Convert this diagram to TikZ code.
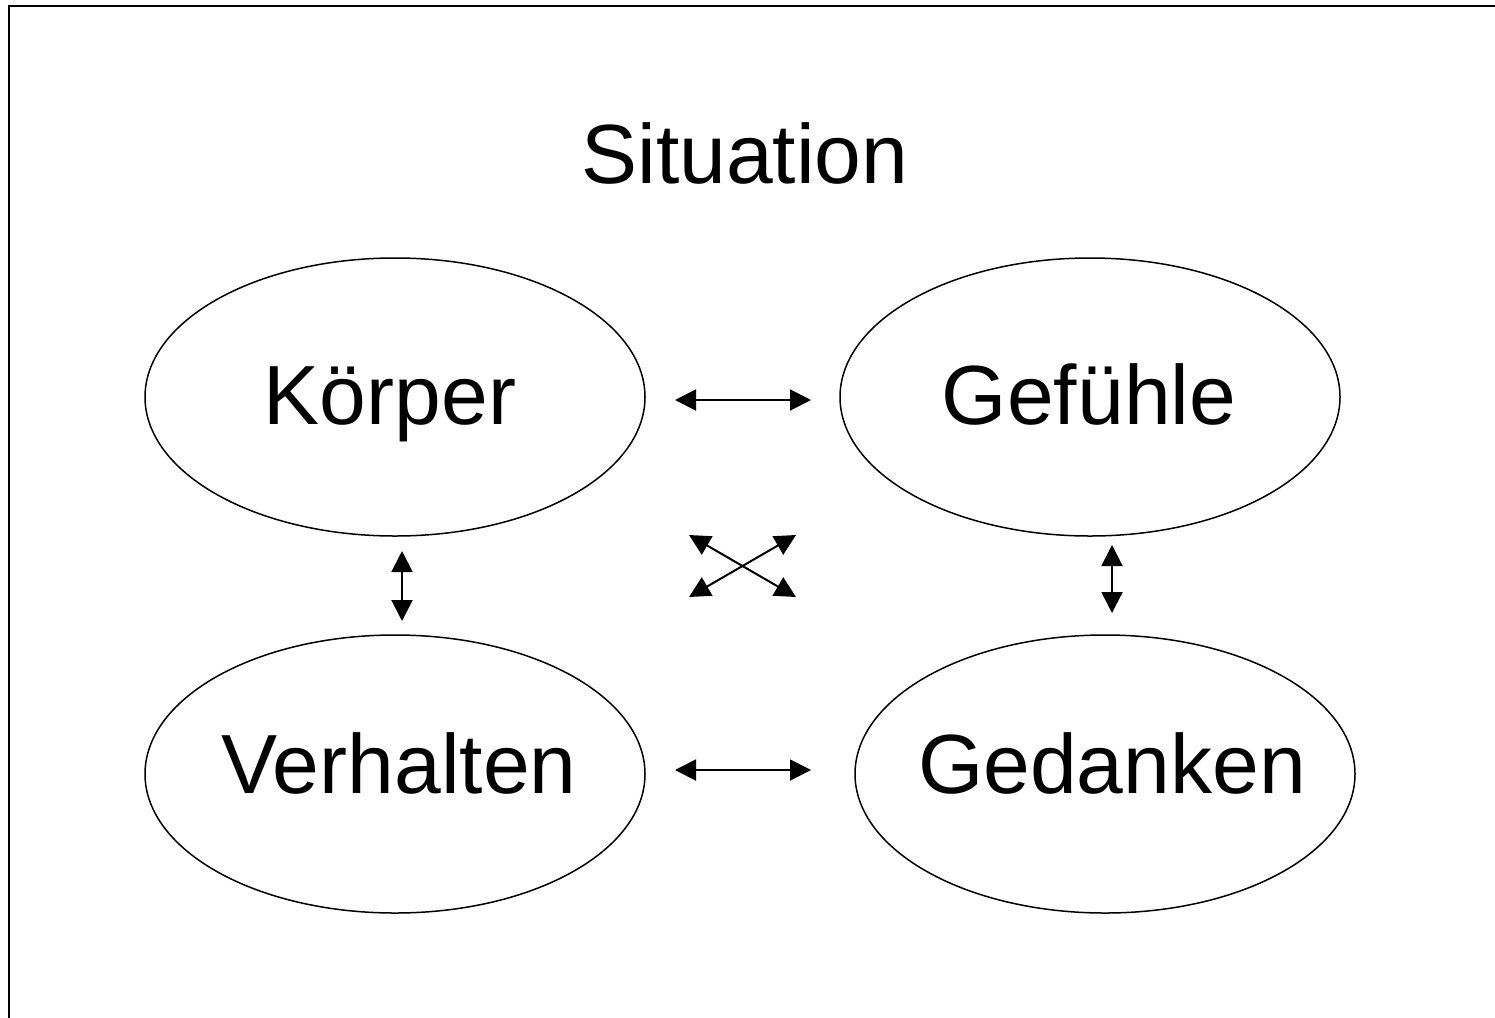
\documentclass[tikz,border=0pt]{standalone}
\usepackage{fontspec}
\setmainfont{Liberation Sans}
\usetikzlibrary{shapes.geometric,arrows.meta}
\begin{document}
\begin{tikzpicture}[x=1pt,y=-1pt,
  oval/.style={draw=black,line width=1.5pt,ellipse,minimum width=500pt,minimum height=278pt,inner sep=0pt},
  lbl/.style={font=\fontsize{84}{100}\selectfont,anchor=base,inner sep=0pt},
  dbl/.style={line width=2pt,{Triangle[length=21pt,width=21pt]}-{Triangle[length=21pt,width=21pt]}}]
\useasboundingbox (0,0) rectangle (1495,1017);
% frame
\draw[line width=2pt,line cap=rect] (9,1017) -- (9,6) -- (1495,6);
% title
\node[lbl] (sit) at (745,183) {Situation};
% ellipses
\node[oval] (k) at (395,397) {};
\node[oval] (gf) at (1090,397) {};
\node[oval] (v) at (395,774) {};
\node[oval] (gd) at (1105,774) {};
\node[lbl] (kt) at (390,424) {Körper};
\node[lbl] (gft) at (1089,424) {Gefühle};
\node[lbl] (vt) at (399,793) {Verhalten};
\node[lbl] (gdt) at (1112,793) {Gedanken};
% arrow end points
\coordinate (h1a) at (675,400); \coordinate (h1b) at (811,400);
\coordinate (h2a) at (675,770); \coordinate (h2b) at (811,770);
\coordinate (v1a) at (402,551); \coordinate (v1b) at (402,621);
\coordinate (v2a) at (1112,545); \coordinate (v2b) at (1112,613);
\coordinate (x1a) at (689,535); \coordinate (x1b) at (796,597);
\coordinate (x2a) at (796,535); \coordinate (x2b) at (689,597);
\draw[dbl] (h1a) -- (h1b);
\draw[dbl] (h2a) -- (h2b);
\draw[dbl] (v1a) -- (v1b);
\draw[dbl] (v2a) -- (v2b);
\draw[dbl] (x1a) -- (x1b);
\draw[dbl] (x2a) -- (x2b);
\end{tikzpicture}
\end{document}
